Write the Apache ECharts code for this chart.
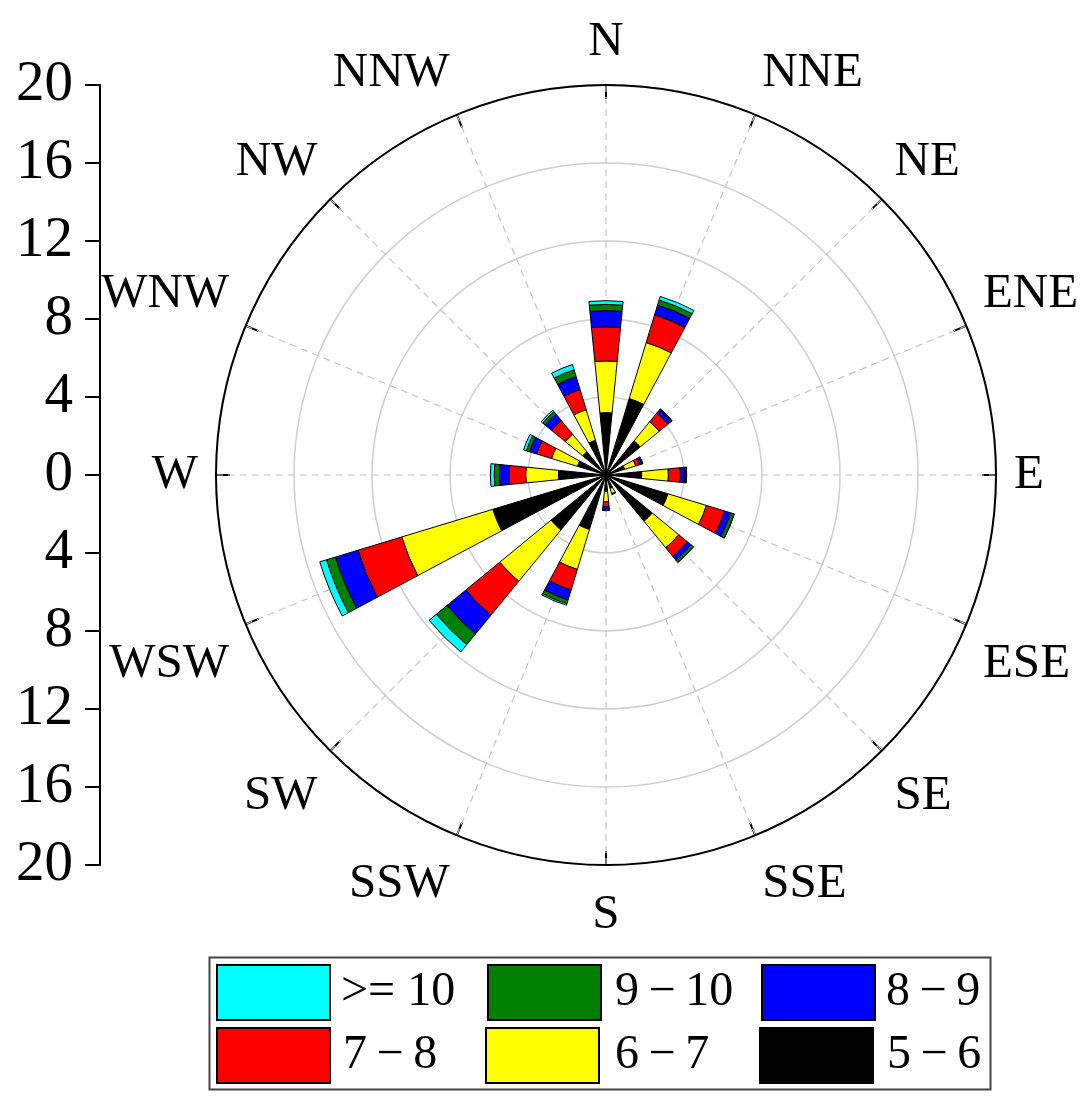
<!DOCTYPE html>
<html>
<head>
<meta charset="utf-8">
<style>
  html, body { margin: 0; padding: 0; background: #fff; }
  #main { width: 1091px; height: 1117px; }
</style>
<script src="https://cdn.jsdelivr.net/npm/echarts@6/dist/echarts.min.js"></script>
</head>
<body>
<div id="main"></div>
<script>
// wind directions, clockwise from north
var directions = ['N','NNE','NE','ENE','E','ESE','SE','SSE','S','SSW','SW','WSW','W','WNW','NW','NNW'];

// frequency (%) per speed class, same order as directions
var speed5to6  = [3.20,4.10,2.27,1.00,1.83,3.32,3.07,0.72,0.85,2.92,3.65,6.07,2.44,1.53,1.55,1.86];
var speed6to7  = [2.65,3.00,1.26,0.59,1.37,2.06,1.76,0.28,0.52,2.14,3.40,4.88,1.68,1.39,1.15,1.64];
var speed7to8  = [1.75,1.48,0.57,0.21,0.61,0.97,0.57,0.02,0.25,1.10,2.25,2.35,0.85,0.80,0.92,1.08];
var speed8to9  = [0.83,0.53,0.23,0.12,0.24,0.33,0.24,0.01,0.15,0.54,1.25,1.20,0.50,0.38,0.42,0.69];
var speed9to10 = [0.32,0.27,0.04,0.04,0.07,0.18,0.16,0.00,0.04,0.20,0.71,0.48,0.26,0.17,0.16,0.37];
var speedOver10= [0.19,0.19,0.02,0.02,0.02,0.02,0.00,0.00,0.02,0.08,0.48,0.36,0.20,0.15,0.10,0.28];

var radiusTicks = [-20,-16,-12,-8,-4,0,4,8,12,16,20]; // left scale

var FONT = '"Liberation Serif", "Times New Roman", serif';
var THIN = '\u2009';
var SECTOR = 360 / directions.length;

function petal(name, values, colour) {
  return {
    name: name,
    type: 'bar',
    coordinateSystem: 'polar',
    polarIndex: 0,
    stack: 'wind',
    barWidth: '50%',
    data: values,
    silent: true,
    itemStyle: { color: colour, borderColor: '#000', borderWidth: 1 }
  };
}

// each legend entry is placed on its own so the boxes line up like the original
function legendItem(name, left, top, textGap) {
  return {
    data: [name],
    left: left,
    top: top,
    padding: 0,
    itemWidth: 113,
    itemHeight: 55,
    icon: 'rect',
    selectedMode: false,
    textStyle: { fontFamily: FONT, fontSize: 48, color: '#000', padding: [3, 0, 0, textGap] }
  };
}

var names = {
  over10: '>= 10',
  s9: '9' + THIN + '−' + THIN + '10',
  s8: '8' + THIN + '−' + THIN + '9',
  s7: '7' + THIN + '−' + THIN + '8',
  s6: '6' + THIN + '−' + THIN + '7',
  s5: '5' + THIN + '−' + THIN + '6'
};

var chart = echarts.init(document.getElementById('main'), null, { renderer: 'canvas' });

chart.setOption({
  animation: false,
  backgroundColor: '#fff',
  // polar 0 holds the petals, polar 1 is the frame: its spokes sit on the directions
  polar: [
    { center: [606, 475], radius: 390 },
    { center: [606, 475], radius: 390 }
  ],
  angleAxis: [{
    polarIndex: 0,
    type: 'category',
    data: directions,
    startAngle: 90 + SECTOR / 2,
    axisLine: { show: false },
    axisTick: { show: false },
    axisLabel: { show: false },
    splitLine: { show: false },
    z: 5
  }, {
    polarIndex: 1,
    type: 'value',
    min: 0,
    max: 360,
    interval: SECTOR,
    startAngle: 90,
    axisLine: { lineStyle: { color: '#000', width: 2 } },
    axisTick: { show: true, inside: true, length: 14, lineStyle: { color: '#000', width: 2 } },
    axisLabel: {
      margin: 18,
      fontFamily: FONT,
      fontSize: 49,
      color: '#000',
      padding: [8, 0, 0, 0],
      formatter: function (v) { return directions[Math.round(v / SECTOR) % directions.length]; }
    },
    splitLine: { show: true, lineStyle: { color: '#c4c4c4', type: [7, 5], width: 1.2 } }
  }],
  radiusAxis: [{
    polarIndex: 0,
    min: 0,
    max: 20,
    show: false
  }, {
    polarIndex: 1,
    min: 0,
    max: 20,
    interval: 4,
    axisLine: { show: false },
    axisTick: { show: false },
    axisLabel: { show: false },
    splitLine: { show: true, lineStyle: { color: '#cfcfcf', width: 1.5 } }
  }],
  // the scale on the left is a plain value axis, it shares nothing with the polar ones
  grid: { left: 100, top: 85, width: 1, height: 780 },
  xAxis: { type: 'value', show: false },
  yAxis: {
    type: 'value',
    min: radiusTicks[0],
    max: radiusTicks[radiusTicks.length - 1],
    interval: 4,
    axisLine: { show: true, lineStyle: { color: '#000', width: 2 } },
    axisTick: { show: true, length: 15, lineStyle: { color: '#000', width: 2 } },
    axisLabel: {
      margin: 27,
      fontFamily: FONT,
      fontSize: 57,
      color: '#000',
      formatter: function (v) { return String(Math.abs(v)); }
    },
    splitLine: { show: false }
  },
  legend: [
    legendItem(names.over10, 216, 964, 6),
    legendItem(names.s9, 487, 964, 9),
    legendItem(names.s8, 761, 964, 6),
    legendItem(names.s7, 216, 1027, 8),
    legendItem(names.s6, 485, 1027, 11),
    legendItem(names.s5, 759, 1027, 9)
  ],
  graphic: [{
    type: 'rect',
    z: -1,
    shape: { x: 209.5, y: 957.5, width: 781, height: 132 },
    style: { fill: '#fff', stroke: '#444', lineWidth: 2 }
  }],
  series: [
    petal(names.s5, speed5to6, '#000000'),
    petal(names.s6, speed6to7, '#ffff00'),
    petal(names.s7, speed7to8, '#ff0000'),
    petal(names.s8, speed8to9, '#0000ff'),
    petal(names.s9, speed9to10, '#008000'),
    petal(names.over10, speedOver10, '#00ffff')
  ]
});
</script>
</body>
</html>
